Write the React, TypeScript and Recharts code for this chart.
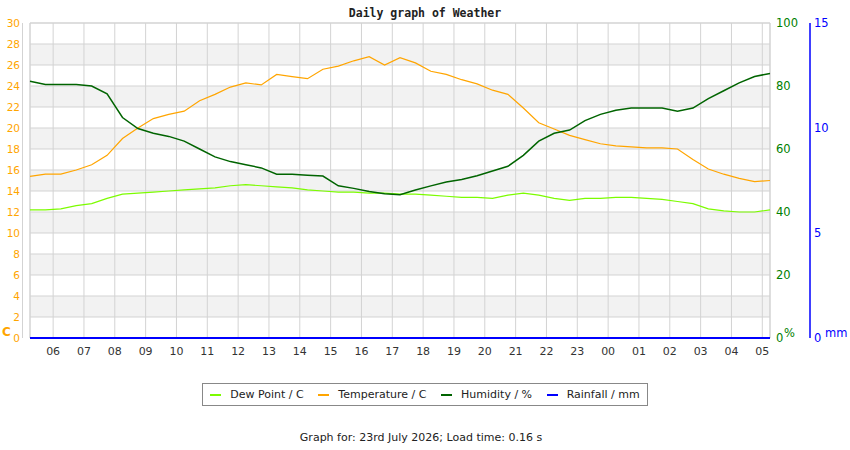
import React from 'react';
import { ComposedChart, Line, XAxis, YAxis, CartesianGrid, ReferenceArea } from 'recharts';

// hours since 05:15 (start of the 24h window)
const sampleHours = [
  0, 0.5, 1, 1.5, 2, 2.5, 3, 3.5, 4, 4.5, 5, 5.5, 6, 6.5, 7, 7.5, 8, 8.5, 9, 9.5,
  10, 10.5, 11, 11.5, 12, 12.5, 13, 13.5, 14, 14.5, 15, 15.5, 16, 16.5, 17, 17.5,
  18, 18.5, 19, 19.5, 20, 20.5, 21, 21.5, 22, 22.5, 23, 23.5, 24
];

const dewPoint = [
  12.2, 12.2, 12.3, 12.6, 12.8, 13.3, 13.7, 13.8, 13.9, 14.0, 14.1, 14.2, 14.3, 14.5, 14.6, 14.5,
  14.4, 14.3, 14.1, 14.0, 13.9, 13.9, 13.8, 13.8, 13.7, 13.7, 13.6, 13.5, 13.4, 13.4, 13.3, 13.6,
  13.8, 13.6, 13.3, 13.1, 13.3, 13.3, 13.4, 13.4, 13.3, 13.2, 13.0, 12.8, 12.3, 12.1, 12.0, 12.0, 12.2
];

const temperature = [
  15.4, 15.6, 15.6, 16.0, 16.5, 17.4, 19.0, 20.0, 20.9, 21.3, 21.6, 22.6, 23.2, 23.9, 24.3, 24.1,
  25.1, 24.9, 24.7, 25.6, 25.9, 26.4, 26.8, 26.0, 26.7, 26.2, 25.4, 25.1, 24.6, 24.2, 23.6, 23.2,
  21.9, 20.5, 19.9, 19.3, 18.9, 18.5, 18.3, 18.2, 18.1, 18.1, 18.0, 17.0, 16.1, 15.6, 15.2, 14.9, 15.0
];

const humidity = [
  81.5, 80.5, 80.5, 80.5, 80, 77.5, 70, 66.5, 65, 64, 62.5, 60, 57.5, 56, 55, 54,
  52, 52, 51.7, 51.4, 48.3, 47.5, 46.5, 45.8, 45.5, 47, 48.3, 49.5, 50.3, 51.5, 53, 54.5,
  58, 62.5, 65, 66, 69, 71, 72.3, 73, 73, 73, 72, 73, 76, 78.5, 81, 83, 84
];

const rainfall = [
  0, 0, 0, 0, 0, 0, 0, 0, 0, 0, 0, 0, 0, 0, 0, 0, 0, 0, 0, 0, 0, 0, 0, 0, 0,
  0, 0, 0, 0, 0, 0, 0, 0, 0, 0, 0, 0, 0, 0, 0, 0, 0, 0, 0, 0, 0, 0, 0, 0
];

const hourTicks = [
  0.75, 1.75, 2.75, 3.75, 4.75, 5.75, 6.75, 7.75, 8.75, 9.75, 10.75, 11.75,
  12.75, 13.75, 14.75, 15.75, 16.75, 17.75, 18.75, 19.75, 20.75, 21.75, 22.75, 23.75
];
const hourLabels = [
  '06', '07', '08', '09', '10', '11', '12', '13', '14', '15', '16', '17',
  '18', '19', '20', '21', '22', '23', '00', '01', '02', '03', '04', '05'
];
const tempTicks = [0, 2, 4, 6, 8, 10, 12, 14, 16, 18, 20, 22, 24, 26, 28, 30];
const humidityTicks = [0, 20, 40, 60, 80, 100];
const rainTicks = [0, 5, 10, 15];

const legendItems = [
  { name: 'Dew Point / C', color: '#7cfc00' },
  { name: 'Temperature / C', color: '#ffa500' },
  { name: 'Humidity / %', color: '#006400' },
  { name: 'Rainfall / mm', color: '#0000ff' }
];

const data = sampleHours.map((h, i) => ({
  h,
  dew: dewPoint[i],
  temp: temperature[i],
  hum: humidity[i],
  rain: rainfall[i]
}));

const font = 'DejaVu Sans, sans-serif';

const App: React.FC = () => (
  <div style={{ position: 'absolute', left: 0, top: 0, width: 850, height: 450, fontFamily: font, background: '#fff' }}>
    <div style={{ position: 'absolute', top: 6, width: 850, textAlign: 'center', fontFamily: 'DejaVu Sans Mono, monospace', fontWeight: 'bold', fontSize: 11.5, color: '#222' }}>
      Daily graph of Weather
    </div>

    {/* thin gray rule left of the temperature labels */}
    <div style={{ position: 'absolute', left: 22, top: 23, width: 1, height: 315, background: '#d3d3d3' }}></div>

    <div style={{ position: 'absolute', left: 0, top: 0 }}>
      <ComposedChart width={850} height={360} data={data} margin={{ top: 23, right: 0, bottom: 0, left: 0 }}>
        <CartesianGrid yAxisId="temp" stroke="#d3d3d3" horizontalFill={['#ffffff', '#f2f2f2']} fillOpacity={1} />
        <ReferenceArea yAxisId="temp" x1={0} x2={24} y1={0} y2={30} fill="none" stroke="#d3d3d3" />
        <XAxis
          dataKey="h"
          type="number"
          domain={[0, 24]}
          ticks={hourTicks}
          tickFormatter={(v: number) => hourLabels[hourTicks.indexOf(v)]}
          axisLine={false}
          tickLine={false}
          tickSize={0}
          tickMargin={9}
          height={22}
          tick={{ fill: '#333', fontSize: 11, fontFamily: font }}
        />
        <YAxis
          yAxisId="temp"
          domain={[0, 30]}
          ticks={tempTicks}
          width={30}
          axisLine={false}
          tickLine={false}
          tickSize={0}
          tickMargin={10}
          interval={0}
          tick={{ fill: '#ffa500', fontSize: 10.5, fontFamily: font }}
        />
        <YAxis
          yAxisId="hum"
          orientation="right"
          domain={[0, 100]}
          ticks={humidityTicks}
          width={40}
          axisLine={false}
          tickLine={false}
          tickSize={0}
          tickMargin={6}
          interval={0}
          tick={{ fill: '#008000', fontSize: 11.5, fontFamily: font }}
        />
        <YAxis
          yAxisId="rain"
          orientation="right"
          domain={[0, 15]}
          ticks={rainTicks}
          width={40}
          axisLine={{ stroke: '#0000ff', strokeWidth: 1.5 }}
          tickLine={false}
          tickSize={0}
          tickMargin={4}
          interval={0}
          tick={{ fill: '#0000ff', fontSize: 11.5, fontFamily: font }}
        />
        <Line yAxisId="temp" dataKey="dew" stroke="#7cfc00" strokeWidth={1.2} dot={false} isAnimationActive={false} />
        <Line yAxisId="temp" dataKey="temp" stroke="#ffa500" strokeWidth={1.2} dot={false} isAnimationActive={false} />
        <Line yAxisId="hum" dataKey="hum" stroke="#006400" strokeWidth={1.5} dot={false} isAnimationActive={false} />
        <Line yAxisId="rain" dataKey="rain" stroke="#0000ff" strokeWidth={2} dot={false} isAnimationActive={false} />
      </ComposedChart>
    </div>

    <div style={{ position: 'absolute', left: 2, top: 325, color: '#ffa500', fontSize: 12, fontWeight: 'bold' }}>C</div>
    <div style={{ position: 'absolute', left: 784, top: 326, color: '#008000', fontSize: 11.5 }}>%</div>
    <div style={{ position: 'absolute', left: 825, top: 326, color: '#0000ff', fontSize: 11.5 }}>mm</div>

    <div
      style={{
        position: 'absolute',
        left: 202,
        top: 383,
        width: 444,
        height: 21,
        border: '1px solid #888',
        display: 'flex',
        alignItems: 'center',
        justifyContent: 'space-around',
        fontSize: 11,
        color: '#222'
      }}
    >
      {legendItems.map((it) => (
        <div key={it.name} style={{ display: 'flex', alignItems: 'center', gap: 9 }}>
          <div style={{ width: 11, height: 2, background: it.color }}></div>
          <span>{it.name}</span>
        </div>
      ))}
    </div>

    <div style={{ position: 'absolute', top: 431, width: 842, textAlign: 'center', fontSize: 11, color: '#222' }}>
      Graph for: 23rd July 2026; Load time: 0.16 s
    </div>
  </div>
);

export default App;
